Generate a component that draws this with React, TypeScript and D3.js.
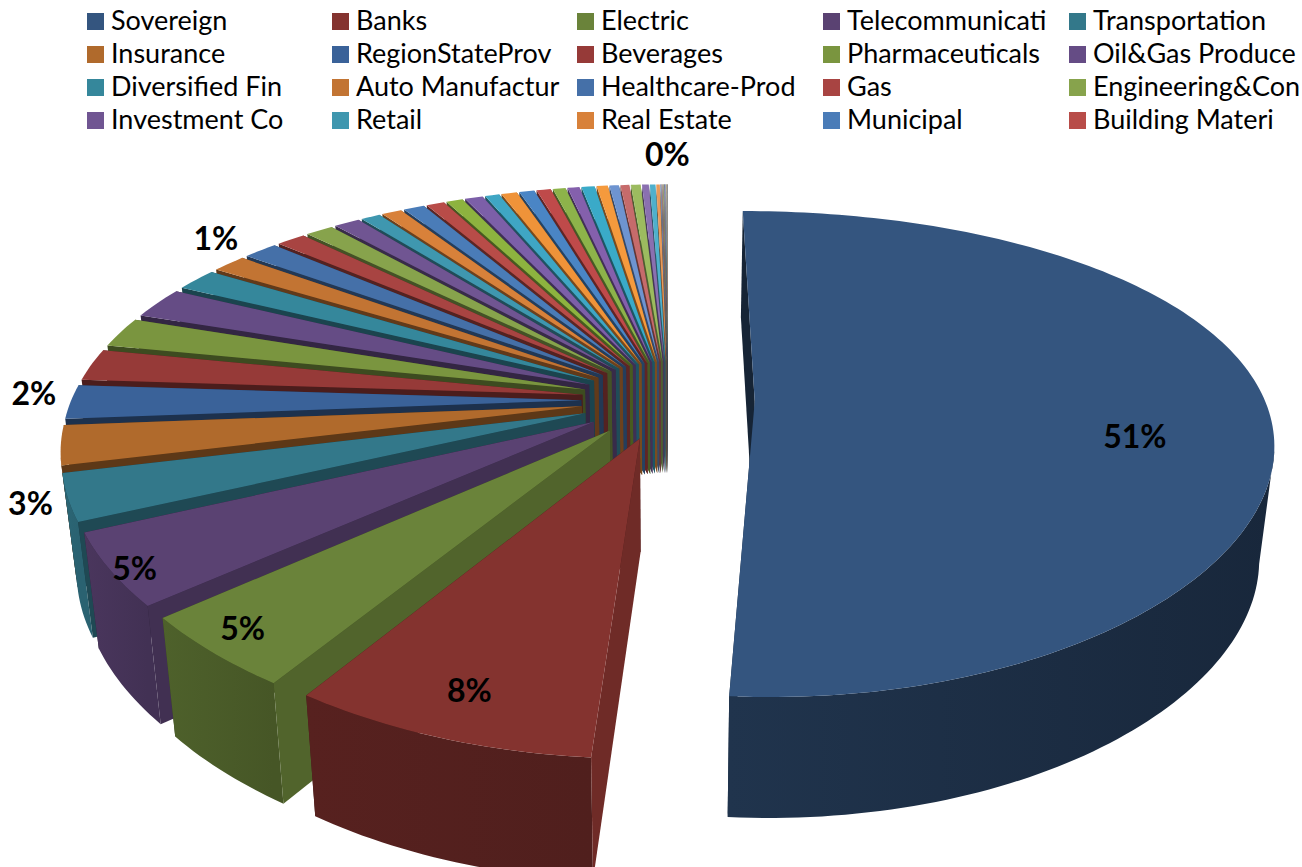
import * as d3 from 'd3';

const WIDTH = 1302;
const HEIGHT = 867;

// Named slices, same order as the legend (read row by row)
const LEGEND_NAMES = [
  'Sovereign', 'Banks', 'Electric', 'Telecommunicati', 'Transportation',
  'Insurance', 'RegionStateProv', 'Beverages', 'Pharmaceuticals', 'Oil&Gas Produce',
  'Diversified Fin', 'Auto Manufactur', 'Healthcare-Prod', 'Gas', 'Engineering&Con',
  'Investment Co', 'Retail', 'Real Estate', 'Municipal', 'Building Materi',
];
const LEGEND_VALUES = [
  51, 8, 4.5, 4.5, 3,
  2.6, 2.3, 2.2, 2.1, 2.2,
  1.6, 1.3, 1.3, 1.1, 1.04,
  0.97, 0.72, 0.75, 0.78, 0.67,
];
const LEGEND_COLORS = [
  '#34557f', '#84332f', '#6a833a', '#5a4272', '#33788a',
  '#b06a2c', '#3a6299', '#963a38', '#7a953f', '#654c85',
  '#35879b', '#c27433', '#4570a8', '#a84442', '#87a34c',
  '#705592', '#3f97af', '#d8813a', '#4a7cb8', '#b84c48',
];

// Slices past the cut-off legend
const TAIL_VALUES = [
  0.61, 0.67, 0.53, 0.58, 0.56, 0.53, 0.47, 0.44, 0.49, 0.41, 0.35, 0.33, 0.36, 0.25, 0.21, 0.13,
  0.04, 0.04, 0.04, 0.04, 0.03, 0.03, 0.03,
];
const TAIL_COLORS = [
  '#8db33f', '#7c5fa8', '#3fa6c4', '#ef9339', '#4a85c5', '#bf4a4a', '#8db34a', '#8460ac',
  '#3aaac8', '#f59a3d', '#6e94d0', '#c66b6b', '#9cbb5f', '#8a70b0', '#4fb0cc', '#e89a5a',
  '#7a8fb0', '#a07a78', '#8d9a70', '#85789a', '#70a0b0', '#b09070', '#777777',
];

const VALUES = [...LEGEND_VALUES, ...TAIL_VALUES];
const COLORS = [...LEGEND_COLORS, ...TAIL_COLORS];

// Which slices carry a visible label
const LABEL_SLICES = [0, 1, 2, 3, 4, 6, 12, VALUES.length - 1];
const LABEL_TEXTS = ['51%', '8%', '5%', '5%', '3%', '2%', '1%', '0%'];
const LABEL_RADII = [0.738, 0.873, 0.922, 0.963, 1.068, 1.079, 1.125, 1.208];
const LABEL_TURNS = [9.5, -0.1, 0.8, -1.3, -0.1, 1.8, -0.9, 0];

// Perspective fitted to the picture
const CX = 668;
const CY = 400;
const FX = 510;
const FY = 231;
const PERSP_X = 0.16;
const PERSP_Y = 0.2165;
const EXPLODE = 0.17;
const DROP = 112;

const project = (X: number, Y: number, z: number): [number, number] => {
  const x = (FX * X) / (1 - PERSP_X * Y);
  const y = (FY * Y) / (1 - PERSP_Y * Y);
  return [CX + x * (1 - 0.025 * z), CY + y * (1 + 0.03 * z) + DROP * z];
};

const line = d3.line();
const toDeg = (a: number) => (a * 180) / Math.PI;

const startShade = d3.scaleLinear().domain([0, 182, 183, 230, 260, 360]).range([0.42, 0.42, 0.84, 0.72, 0.5, 0.5]).clamp(true);
const outerShade = d3.scaleLinear().domain([100, 180, 215, 240, 255]).range([0.46, 0.6, 0.66, 0.8, 0.85]).clamp(true);

const shade = (c: string, f: number) => {
  const { r, g, b } = d3.rgb(c);
  return d3.rgb(r * f, g * f, b * f).formatHex();
};

const arcs = d3.pie<number>().sort(null).startAngle(0).endAngle(Math.PI * 2)(VALUES);

const slices = arcs.map((arc, i) => {
  const mid = (arc.startAngle + arc.endAngle) / 2;
  const ox = EXPLODE * Math.sin(mid);
  const oy = -EXPLODE * Math.cos(mid);
  const rim = (a: number, z: number) => project(ox + Math.sin(a), oy - Math.cos(a), z);
  const apex = (z: number) => project(ox, oy, z);

  const n = Math.max(2, Math.ceil((arc.endAngle - arc.startAngle) / 0.02));
  const angles = d3.range(n + 1).map(k => arc.startAngle + ((arc.endAngle - arc.startAngle) * k) / n);
  const front = angles.filter(a => -Math.cos(a) > 0.2);

  const top = line([apex(0), ...angles.map(a => rim(a, 0))]) + 'Z';
  const startWall = line([apex(0), rim(arc.startAngle, 0), rim(arc.startAngle, 1), apex(1)]) + 'Z';
  const endWall = line([apex(0), rim(arc.endAngle, 0), rim(arc.endAngle, 1), apex(1)]) + 'Z';
  const outer = front.length > 1
    ? line([...front.map(a => rim(a, 0)), ...front.slice().reverse().map(a => rim(a, 1))]) + 'Z'
    : null;
  const xLo = front.length > 1 ? rim(front[0], 0)[0] : 0;
  const xHi = front.length > 1 ? rim(front[front.length - 1], 0)[0] : 1;

  return {
    i, mid, ox, oy, top, startWall, endWall, outer, xLo, xHi,
    color: COLORS[i],
    startDeg: toDeg(front[0] ?? arc.startAngle),
    endDeg: toDeg(front[front.length - 1] ?? arc.endAngle),
    wallDeg: toDeg(arc.startAngle),
  };
});

// Back slices first, the big one last
const paintOrder = [...slices.slice(1).reverse(), slices[0]];

const LEGEND_X = [87, 332, 577, 823, 1069];
const LEGEND_Y = [21, 54, 87, 120];

export default function App() {
  return (
    <svg
      width={WIDTH}
      height={HEIGHT}
      viewBox={`0 0 ${WIDTH} ${HEIGHT}`}
      style={{ position: 'absolute', left: 0, top: 0, background: '#fff' }}
    >
      <defs>
        {slices.filter(s => s.outer).map(s => (
          <linearGradient key={s.i} id={`wall-${s.i}`} gradientUnits="userSpaceOnUse" x1={s.xLo} x2={s.xHi} y1={0} y2={0}>
            <stop offset="0" stopColor={shade(s.color, outerShade(s.startDeg))} />
            <stop offset="1" stopColor={shade(s.color, outerShade(s.endDeg))} />
          </linearGradient>
        ))}
      </defs>

      {paintOrder.map(s => (
        <g key={s.i}>
          <path d={s.endWall} fill={shade(s.color, 0.5)} />
          {s.outer && <path d={s.outer} fill={`url(#wall-${s.i})`} />}
          <path d={s.startWall} fill={shade(s.color, startShade(s.wallDeg))} />
          <path d={s.top} fill={s.color} />
        </g>
      ))}

      {LABEL_SLICES.map((idx, k) => {
        const s = slices[idx];
        const a = s.mid + (LABEL_TURNS[k] * Math.PI) / 180;
        const [x, y] = project(s.ox + LABEL_RADII[k] * Math.sin(a), s.oy - LABEL_RADII[k] * Math.cos(a), 0);
        return (
          <text key={k} x={x} y={y} dy="0.35em" textAnchor="middle" fontFamily="Lato" fontWeight={700} fontSize={32} fill="#000">
            {LABEL_TEXTS[k]}
          </text>
        );
      })}

      {LEGEND_NAMES.map((name, i) => {
        const x = LEGEND_X[i % 5];
        const y = LEGEND_Y[Math.floor(i / 5)];
        return (
          <g key={name}>
            <rect x={x} y={y - 8} width={17} height={17} fill={LEGEND_COLORS[i]} />
            <text x={x + 24} y={y} dy="0.35em" fontFamily="Lato" fontSize={27} fill="#000">{name}</text>
          </g>
        );
      })}
    </svg>
  );
}
